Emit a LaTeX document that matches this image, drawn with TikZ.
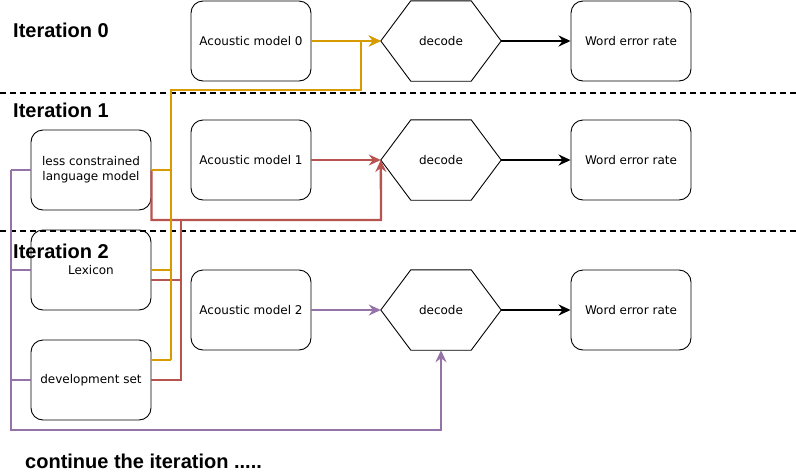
\documentclass[tikz,border=0pt]{standalone}
\usepackage{fontspec}
\setmainfont{Liberation Sans}
\newfontfamily\boxfont{DejaVu Sans}
\usetikzlibrary{arrows.meta,calc}
\definecolor{orng}{HTML}{D79B00}
\definecolor{redd}{HTML}{B85450}
\definecolor{purp}{HTML}{9673A6}
\tikzset{
  rbox/.style={draw=black,line width=0.9pt,rounded corners=12pt,minimum width=120pt,minimum height=80pt,align=center,inner sep=0pt,font=\boxfont\fontsize{12}{15}\selectfont},
  hexnode/.style={minimum width=120pt,minimum height=80pt,inner sep=0pt,font=\boxfont\fontsize{12}{15}\selectfont},
  itlabel/.style={font=\bfseries\fontsize{20}{24}\selectfont,anchor=west,inner sep=0pt},
  sep/.style={line width=1.3pt,dash pattern=on 6pt off 4pt},
  thin/.style={line width=1.5pt},
  thick/.style={line width=2.3pt},
  tip/.style={-{Stealth[length=12pt,width=11pt,inset=4pt]}},
}
\begin{document}
\begin{tikzpicture}[x=1pt,y=-1pt]
\useasboundingbox (0,0) rectangle (796,472);
% boxes
\node[rbox] (am0) at (251,41) {Acoustic model 0};
\node[rbox] (am1) at (251,160) {Acoustic model 1};
\node[rbox] (am2) at (251,310) {Acoustic model 2};
\node[rbox] (w0) at (631,41) {Word error rate};
\node[rbox] (w1) at (631,160) {Word error rate};
\node[rbox] (w2) at (631,310) {Word error rate};
\node[rbox] (lm) at (91,170) {less constrained\\language model};
\node[rbox] (lex) at (91,270) {Lexicon};
\node[rbox] (dev) at (91,380) {development set};
\foreach \n/\y in {d0/41,d1/160,d2/310}{
  \node[hexnode] (\n) at (441,\y) {decode};
  \draw[line width=0.9pt] (\n.west) -- ($(\n.north west)+(30,0)$) -- ($(\n.north east)+(-30,0)$) -- (\n.east) -- ($(\n.south east)+(-30,0)$) -- ($(\n.south west)+(30,0)$) -- cycle;
}
% separators
\coordinate (s1l) at (0,93); \coordinate (s1r) at (796,93);
\coordinate (s2l) at (0,231); \coordinate (s2r) at (796,231);
\draw[sep] (s1l) -- (s1r);
\draw[sep] (s2l) -- (s2r);
% labels
\node[itlabel] (it0) at (13,30) {Iteration 0};
\node[itlabel] (it1) at (13,110) {Iteration 1};
\node[itlabel] (it2) at (13,251) {Iteration 2};
\node[itlabel] (cont) at (25,461) {continue the iteration .....};
% black arrows
\foreach \a/\b in {d0/w0,d1/w1,d2/w2}{
  \draw[thick,tip,black] (\a.east) -- (\b.west);
}
% red
\draw[thin,redd,tip] (am1.east) -- (d1.west);
\draw[thick,redd,tip] (lm.east) |- (381,220) -- (d1.west);
\draw[thin,redd] ($(lex.east)+(0,10)$) -- (181,280) -- (181,220);
\draw[thin,redd] (dev.east) -- (181,380) -- (181,220);
% orange
\draw[thin,orng,tip] (am0.east) -- (d0.west);
\draw[thin,orng] (lm.east) -- (171,170);
\draw[thin,orng] (lex.east) -- (171,270);
\draw[thin,orng] ($(dev.east)+(0,-20)$) -- (171,360);
\draw[thick,orng,tip] (171,360) -- (171,90) -- (361,90) -- (361,41) -- (d0.west);
% purple
\draw[thin,purp,tip] (am2.east) -- (d2.west);
\draw[thin,purp] (lm.west) -- (11,170);
\draw[thin,purp] (lex.west) -- (11,270);
\draw[thin,purp] (dev.west) -- (11,380);
\draw[thick,purp,tip] (11,170) -- (11,430) -| (d2.south);
\end{tikzpicture}
\end{document}
